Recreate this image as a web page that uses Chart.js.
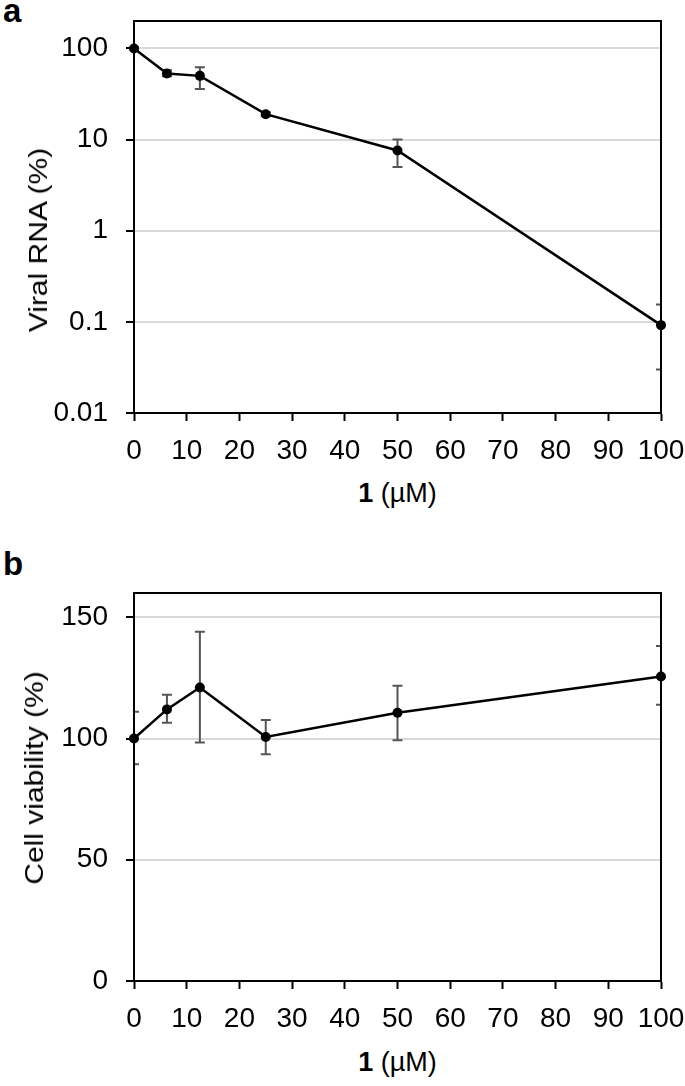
<!DOCTYPE html>
<html><head><meta charset="utf-8">
<script src="https://cdn.jsdelivr.net/npm/chart.js@4"></script>
<style>
html,body{margin:0;padding:0;background:#fff;}
body{width:685px;height:1086px;position:relative;overflow:hidden;font-family:'Liberation Sans',Arial,sans-serif;color:#000;}
.box{position:absolute;left:0;width:685px;}
.panel{position:absolute;left:3px;font-weight:bold;font-size:33px;line-height:33px;}
.xt{position:absolute;left:134px;width:527px;text-align:center;font-size:27px;line-height:30px;}
.yt{position:absolute;font-size:25px;line-height:30px;white-space:nowrap;transform:translate(-50%,-50%) rotate(-90deg) scaleX(1.2);}
</style></head><body>
<div class="panel" style="top:-6px">a</div>
<div class="box" style="top:0;height:470px"><canvas id="cA"></canvas></div>
<div class="yt" style="left:38px;top:240px">Viral RNA (%)</div>
<div class="xt" style="top:478px"><b>1</b> (µM)</div>
<div class="panel" style="top:547px">b</div>
<div class="box" style="top:560px;height:480px"><canvas id="cB"></canvas></div>
<div class="yt" style="left:34px;top:778px">Cell viability (%)</div>
<div class="xt" style="top:1047px"><b>1</b> (µM)</div>
<script>
const concentrations = [0, 6.25, 12.5, 25, 50, 100];
const xTicks = [0, 10, 20, 30, 40, 50, 60, 70, 80, 90, 100];

const viralRNA      = [100, 53, 50, 19, 7.6, 0.092];
const viralRNAUpper = [104, 57.5, 62, 20, 10, 0.155];
const viralRNALower = [96, 49.5, 36, 18, 5.0, 0.030];
const viralTicks = [0.01, 0.1, 1, 10, 100];

const viability      = [100, 112, 121, 100.6, 110.6, 125.6];
const viabilityUpper = [111, 118, 144, 107.6, 121.8, 138.1];
const viabilityLower = [89.4, 106.5, 98.3, 93.5, 99.3, 113.9];
const viabilityTicks = [0, 50, 100, 150];

Chart.defaults.font.family = "'Liberation Sans', Arial, sans-serif";
Chart.defaults.color = '#000';

const errorBarPlugin = {
  id: 'errorBars',
  beforeDatasetsDraw(chart, args, opts) {
    const {ctx, chartArea: a, scales: {x, y}} = chart;
    ctx.save();
    ctx.beginPath();
    ctx.rect(a.left, a.top, a.right - a.left, a.bottom - a.top);
    ctx.clip();
    ctx.strokeStyle = '#555';
    ctx.lineWidth = 2;
    opts.xs.forEach((xv, i) => {
      const px = x.getPixelForValue(xv);
      const pt = y.getPixelForValue(opts.upper[i]);
      const pb = y.getPixelForValue(opts.lower[i]);
      ctx.beginPath();
      ctx.moveTo(px, pt); ctx.lineTo(px, pb);
      ctx.moveTo(px - 5, pt); ctx.lineTo(px + 5, pt);
      ctx.moveTo(px - 5, pb); ctx.lineTo(px + 5, pb);
      ctx.stroke();
    });
    ctx.restore();
    ctx.save();
    ctx.strokeStyle = '#000';
    ctx.lineWidth = 2;
    ctx.strokeRect(a.left, a.top, a.right - a.left, a.bottom - a.top);
    ctx.restore();
  }
};

function noPad(s) {
  s.paddingLeft = 0; s.paddingRight = 0; s.paddingTop = 0; s.paddingBottom = 0;
}

function makeChart(id, opts) {
  return new Chart(document.getElementById(id), {
    type: 'line',
    data: {
      datasets: [{
        data: concentrations.map((c, i) => ({x: c, y: opts.values[i]})),
        borderColor: '#000',
        backgroundColor: '#000',
        borderWidth: 2.5,
        pointRadius: 5,
        pointBackgroundColor: '#000',
        pointBorderWidth: 0,
        tension: 0,
        clip: false
      }]
    },
    options: {
      responsive: true,
      maintainAspectRatio: false,
      animation: false,
      layout: {padding: {top: opts.padTop, right: 24, left: 0, bottom: 0}},
      plugins: {
        legend: {display: false},
        tooltip: {enabled: false},
        errorBars: {xs: concentrations, upper: opts.upper, lower: opts.lower}
      },
      scales: {
        x: {
          type: 'linear', min: 0, max: 100,
          afterBuildTicks: s => { s.ticks = xTicks.map(v => ({value: v})); },
          afterFit: s => { s.height = opts.xHeight; noPad(s); },
          grid: {drawOnChartArea: false, tickLength: 8, tickColor: '#000', tickWidth: 2},
          border: {color: '#000', width: 2},
          ticks: {color: '#000', font: {size: 28}, padding: 13, maxRotation: 0, autoSkip: false}
        },
        y: {
          type: opts.yType, min: opts.yMin, max: opts.yMax,
          afterBuildTicks: s => { s.ticks = opts.yTicks.map(v => ({value: v})); },
          afterFit: s => { s.width = 134; noPad(s); },
          grid: {color: '#d9d9d9', lineWidth: 2, tickColor: '#000', tickLength: 8, tickWidth: 2},
          border: {color: '#000', width: 2},
          ticks: {color: '#000', font: {size: 28}, padding: 18, callback: v => String(v)},
          title: {display: false}
        }
      }
    },
    plugins: [errorBarPlugin]
  });
}

makeChart('cA', {
  values: viralRNA, upper: viralRNAUpper, lower: viralRNALower,
  yType: 'logarithmic', yMin: 0.01, yMax: 200, yTicks: viralTicks,
  padTop: 21, xHeight: 57
});
makeChart('cB', {
  values: viability, upper: viabilityUpper, lower: viabilityLower,
  yType: 'linear', yMin: 0, yMax: 160, yTicks: viabilityTicks,
  padTop: 33, xHeight: 59
});
</script>
</body></html>
